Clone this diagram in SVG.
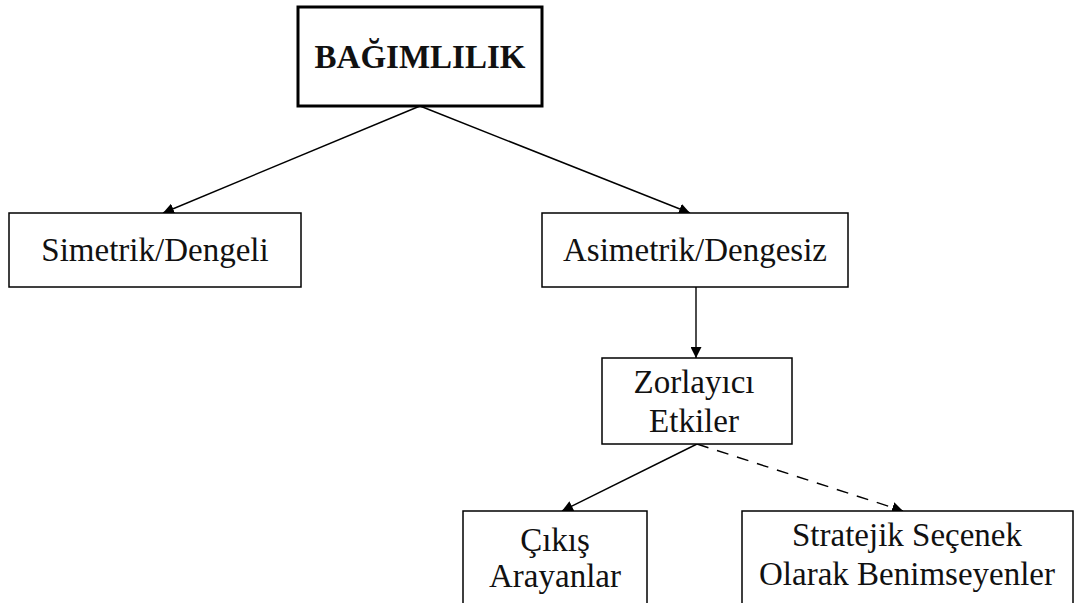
<svg xmlns="http://www.w3.org/2000/svg" width="1075" height="603" viewBox="0 0 1075 603">
<style>
.box{fill:#fff;stroke:#000;stroke-width:1.5}
.main{fill:#fff;stroke:#000;stroke-width:3}
.t{font-family:"Liberation Serif","Times New Roman",serif;font-size:33px;fill:#111;text-anchor:middle}
.b{font-weight:bold;font-size:33px}
.c{stroke:#000;stroke-width:1.4;fill:none;marker-end:url(#ah)}
.d{stroke-dasharray:12 9}
</style>
<defs>
<marker id="ah" viewBox="0 0 10 10" refX="10" refY="5" markerWidth="11" markerHeight="11" markerUnits="userSpaceOnUse" orient="auto">
<path d="M0,0 L10,5 L0,10 z" fill="#000"/>
</marker>
</defs>
<rect width="1075" height="603" fill="#fff"/>
<g id="connectors">
<line class="c" x1="420" y1="106" x2="163" y2="213"/>
<line class="c" x1="420" y1="106" x2="690" y2="213"/>
<line class="c" x1="696" y1="287" x2="696" y2="358"/>
<line class="c" x1="697" y1="444" x2="562" y2="511"/>
<line class="c d" x1="697" y1="444" x2="903" y2="511"/>
</g>
<g id="n-bagimlilik">
<rect class="main" x="298" y="7" width="244" height="99"/>
<text class="t b" x="420" y="68">BAĞIMLILIK</text>
</g>
<g id="n-simetrik">
<rect class="box" x="9" y="213" width="292" height="74"/>
<text class="t" x="155" y="261">Simetrik/Dengeli</text>
</g>
<g id="n-asimetrik">
<rect class="box" x="542" y="213" width="306" height="74"/>
<text class="t" x="695" y="261">Asimetrik/Dengesiz</text>
</g>
<g id="n-zorlayici">
<rect class="box" x="602" y="358" width="190" height="86"/>
<text class="t" x="694" y="393">Zorlayıcı</text>
<text class="t" x="694" y="432">Etkiler</text>
</g>
<g id="n-cikis">
<rect class="box" x="463" y="511" width="184" height="100"/>
<text class="t" x="555" y="551">Çıkış</text>
<text class="t" x="555" y="587">Arayanlar</text>
</g>
<g id="n-stratejik">
<rect class="box" x="742" y="511" width="331" height="100"/>
<text class="t" x="907" y="546">Stratejik Seçenek</text>
<text class="t" x="907" y="585">Olarak Benimseyenler</text>
</g>
</svg>
